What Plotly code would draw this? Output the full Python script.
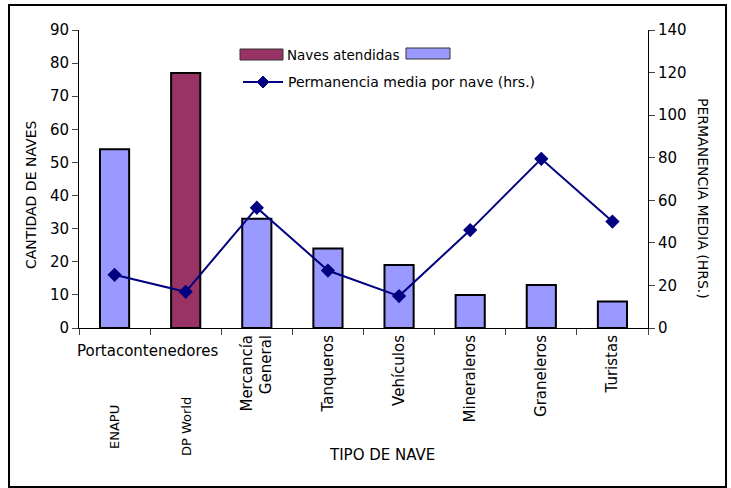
"""Naves atendidas y permanencia media por tipo de nave."""

import plotly.graph_objects as go

categorias = ["ENAPU", "DP World", "Mercancía General", "Tanqueros",
              "Vehículos", "Mineraleros", "Graneleros", "Turistas"]
etiquetas = ["", "", "Mercancía<br>General", "Tanqueros",
             "Vehículos", "Mineraleros", "Graneleros", "Turistas"]
naves_atendidas = [54, 77, 33, 24, 19, 10, 13, 8]
permanencia_media = [25, 17, 56.5, 27, 15, 46, 79.5, 50]
colores_barras = ["#9999FF", "#993366", "#9999FF", "#9999FF",
                  "#9999FF", "#9999FF", "#9999FF", "#9999FF"]

W, H = 731, 488
L, R, T, B = 79, 648, 30, 328
FONT = "DejaVu Sans"


def px(x):
    return (x - L) / (R - L)


def py(y):
    return (B - y) / (B - T)


fig = go.Figure()

fig.add_trace(go.Bar(
    x=categorias,
    y=naves_atendidas,
    marker=dict(color=colores_barras, line=dict(color="black", width=2)),
    width=0.41,
    name="Naves atendidas",
))

fig.add_trace(go.Scatter(
    x=categorias,
    y=permanencia_media,
    yaxis="y2",
    mode="lines+markers",
    line=dict(color="#000080", width=2),
    marker=dict(symbol="diamond", size=11, color="#000080"),
    name="Permanencia media por nave (hrs.)",
))

fig.update_layout(
    width=W,
    height=H,
    margin=dict(l=L, r=W - R, t=T, b=H - B),
    paper_bgcolor="white",
    plot_bgcolor="white",
    showlegend=False,
    font=dict(family=FONT, size=15, color="black"),
    xaxis=dict(
        tickmode="array",
        tickvals=categorias,
        ticktext=etiquetas,
        tickangle=-90,
        tickson="boundaries",
        ticks="outside",
        ticklen=6,
        showline=True,
        linecolor="black",
        showgrid=False,
        tickfont=dict(size=15),
    ),
    yaxis=dict(
        range=[0, 90],
        dtick=10,
        ticks="outside",
        ticklen=6,
        showline=True,
        linecolor="black",
        showgrid=False,
        zeroline=False,
    ),
    yaxis2=dict(
        range=[0, 140],
        dtick=20,
        overlaying="y",
        side="right",
        ticks="outside",
        ticklen=6,
        showline=True,
        linecolor="black",
        showgrid=False,
        zeroline=False,
    ),
)

anotaciones = [
    dict(text="Portacontenedores", x=px(147), y=py(351), size=15, angle=0),
    dict(text="ENAPU", x=px(114), y=py(427), size=13, angle=-90),
    dict(text="DP World", x=px(186), y=py(427), size=13, angle=-90),
    dict(text="TIPO DE NAVE", x=px(382), y=py(455), size=15, angle=0),
    dict(text="CANTIDAD DE NAVES", x=px(31), y=py(195), size=14, angle=-90),
    dict(text="PERMANENCIA MEDIA (HRS.)", x=px(703), y=py(198), size=14, angle=90),
]
for a in anotaciones:
    fig.add_annotation(
        text=a["text"], x=a["x"], y=a["y"], xref="paper", yref="paper",
        showarrow=False, textangle=a["angle"],
        font=dict(family=FONT, size=a["size"], color="black"),
        xanchor="center", yanchor="middle",
    )

# leyenda dibujada a mano
fig.add_shape(type="rect", xref="paper", yref="paper",
              x0=px(240), x1=px(283), y0=py(60), y1=py(49),
              fillcolor="#993366", line=dict(color="#333333", width=1))
fig.add_annotation(text="Naves atendidas", x=px(285), y=py(55), xref="paper", yref="paper",
                   showarrow=False, xanchor="left", yanchor="middle",
                   font=dict(family=FONT, size=13.5, color="black"))
fig.add_shape(type="rect", xref="paper", yref="paper",
              x0=px(406), x1=px(450), y0=py(59), y1=py(48),
              fillcolor="#9999FF", line=dict(color="#333333", width=1))
fig.add_shape(type="line", xref="paper", yref="paper",
              x0=px(243), x1=px(283), y0=py(82), y1=py(82),
              line=dict(color="#000080", width=2))
fig.add_shape(type="path", xref="paper", yref="paper",
              path=f"M {px(263)} {py(76)} L {px(269)} {py(82)} L {px(263)} {py(88)} "
                   f"L {px(257)} {py(82)} Z",
              fillcolor="#000080", line=dict(color="#000080", width=1))
fig.add_annotation(text="Permanencia media por nave (hrs.)", x=px(286), y=py(82),
                   xref="paper", yref="paper", showarrow=False,
                   xanchor="left", yanchor="middle",
                   font=dict(family=FONT, size=14, color="black"))

# marco exterior
fig.add_shape(type="rect", xref="paper", yref="paper",
              x0=px(9), x1=px(726), y0=py(487), y1=py(5),
              line=dict(color="black", width=2), fillcolor="rgba(0,0,0,0)")

fig.write_html(
    "out.html",
    config={"displayModeBar": False},
    post_script="document.body.style.margin = '0';",
)
